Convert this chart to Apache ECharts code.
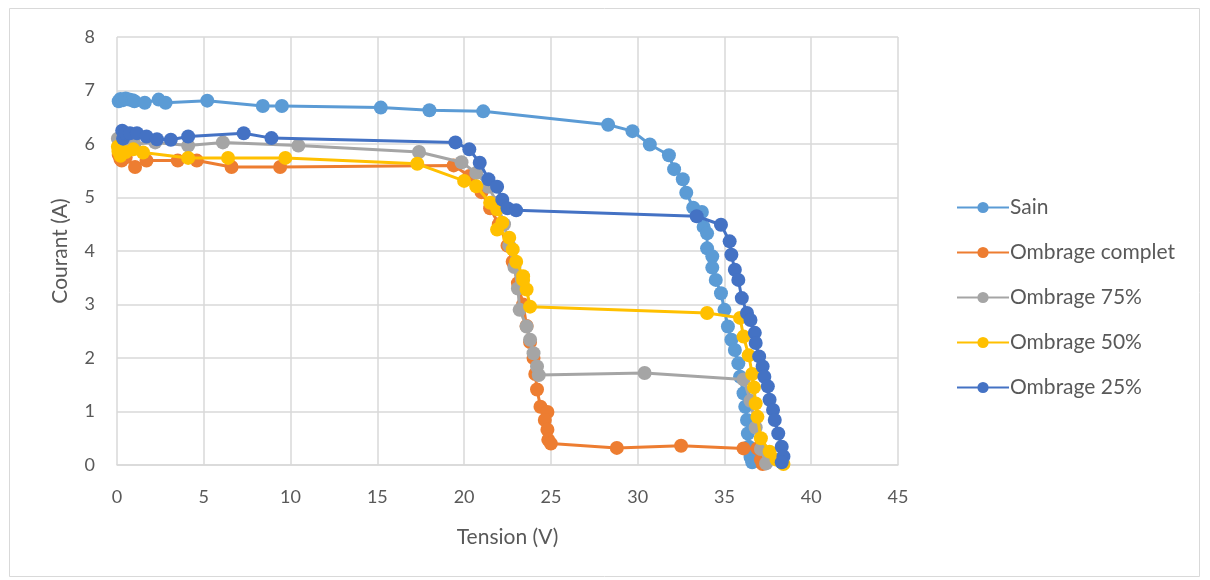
<!DOCTYPE html>
<html>
<head>
<meta charset="utf-8">
<script src="https://cdn.jsdelivr.net/npm/echarts@6/dist/echarts.min.js"></script>
<style>html,body{margin:0;padding:0;background:#fff;}#c{width:1210px;height:580px;}</style>
</head>
<body>
<div id="c"></div>
<script>
const seriesNames = ['Sain', 'Ombrage complet', 'Ombrage 75%', 'Ombrage 50%', 'Ombrage 25%'];
const seriesColors = ['#5B9BD5', '#ED7D31', '#A5A5A5', '#FFC000', '#4472C4'];
const xTicks = [0, 5, 10, 15, 20, 25, 30, 35, 40, 45];
const yTicks = [0, 1, 2, 3, 4, 5, 6, 7, 8];

const sainV = [0.1,0.2,0.35,0.5,0.7,0.9,1.0,1.6,2.4,2.8,5.2,8.4,9.5,15.2,18.0,21.1,28.3,29.7,30.7,31.8,32.1,32.6,32.8,33.2,33.7,33.8,34.0,34.0,34.3,34.3,34.5,34.8,35.0,35.2,35.4,35.6,35.8,35.9,36.1,36.2,36.3,36.35,36.4,36.5,36.6,36.8];
const sainI = [6.8,6.84,6.82,6.85,6.83,6.82,6.8,6.77,6.83,6.77,6.81,6.71,6.71,6.68,6.63,6.61,6.36,6.24,5.99,5.79,5.53,5.34,5.09,4.81,4.73,4.45,4.33,4.05,3.9,3.69,3.46,3.21,2.9,2.59,2.34,2.15,1.9,1.65,1.34,1.09,0.84,0.59,0.34,0.15,0.05,0.1];

const completV = [0.1,0.2,0.27,0.5,1.04,1.7,3.5,4.6,6.6,9.4,19.4,20.3,21.0,21.5,22.0,22.5,22.8,23.1,23.4,23.6,23.8,24.0,24.1,24.2,24.4,24.8,24.65,24.8,24.85,25.0,28.8,32.5,36.1,36.9,37.1,37.2];
const completI = [5.8,5.72,5.69,5.75,5.57,5.69,5.69,5.69,5.57,5.57,5.6,5.4,5.1,4.8,4.5,4.1,3.8,3.4,3.0,2.6,2.3,2.0,1.7,1.41,1.09,0.99,0.84,0.66,0.47,0.4,0.32,0.36,0.31,0.31,0.1,0.02];

const omb75V = [0.05,0.17,0.4,1.0,2.2,4.1,6.1,10.45,17.4,19.85,20.7,21.4,21.9,22.3,22.6,22.9,23.1,23.2,23.6,23.8,24.0,24.2,24.3,30.4,36.1,36.5,36.8,37.1,37.4];
const omb75I = [6.1,6.03,5.95,6.0,6.03,5.97,6.03,5.97,5.85,5.66,5.46,5.2,4.9,4.5,4.1,3.7,3.3,2.9,2.59,2.34,2.09,1.84,1.68,1.72,1.6,1.2,0.7,0.3,0.03];

const omb50V = [0.05,0.08,0.2,0.5,0.94,1.5,4.1,6.4,9.7,17.3,20.0,20.7,21.5,21.9,22.2,21.9,22.6,22.8,23.0,23.4,23.4,23.6,23.8,34.0,35.9,36.1,36.4,36.6,36.7,36.8,36.9,37.1,37.6,38.0,38.4];
const omb50I = [5.95,5.87,5.78,5.85,5.9,5.84,5.74,5.74,5.74,5.63,5.31,5.21,4.9,4.78,4.53,4.4,4.25,4.03,3.8,3.53,3.46,3.28,2.96,2.84,2.75,2.4,2.05,1.7,1.45,1.15,0.9,0.5,0.25,0.1,0.02];

const omb25V = [0.3,0.35,0.5,0.75,1.15,1.7,2.3,3.1,4.1,7.3,8.9,19.5,20.3,20.9,21.4,21.9,22.2,22.5,23.0,33.4,34.8,35.3,35.4,35.6,35.8,36.0,36.3,36.5,36.75,36.8,37.0,37.2,37.3,37.5,37.6,37.8,37.9,38.1,38.3,38.4,38.3];
const omb25I = [6.25,6.1,6.2,6.2,6.2,6.14,6.09,6.08,6.14,6.2,6.11,6.03,5.9,5.65,5.34,5.2,4.96,4.8,4.76,4.65,4.49,4.18,3.93,3.65,3.46,3.12,2.84,2.71,2.47,2.28,2.03,1.84,1.65,1.47,1.22,1.03,0.84,0.59,0.34,0.16,0.05];

const allV = [sainV, completV, omb75V, omb50V, omb25V];
const allI = [sainI, completI, omb75I, omb50I, omb25I];

const FONT = 'Lato, "Open Sans", sans-serif';
const TXT = '#595959';

const chart = echarts.init(document.getElementById('c'), null, {renderer: 'canvas'});
chart.setOption({
  animation: false,
  backgroundColor: '#ffffff',
  textStyle: {fontFamily: FONT},
  graphic: [{
    type: 'rect', silent: true,
    shape: {x: 9.5, y: 8.5, width: 1190, height: 568},
    style: {fill: 'none', stroke: '#D9D9D9', lineWidth: 1}
  }],
  grid: {left: 117, right: 312, top: 37, bottom: 115, containLabel: false},
  legend: {
    orient: 'vertical', left: 951, top: 192, itemGap: 24,
    itemWidth: 52, itemHeight: 14,
    data: seriesNames,
    textStyle: {fontFamily: FONT, fontSize: 21, color: TXT, padding: [0, 0, 0, -4]},
    selectedMode: false
  },
  xAxis: {
    type: 'value', min: xTicks[0], max: xTicks[xTicks.length - 1], interval: 5,
    name: 'Tension (V)', nameLocation: 'middle', nameGap: 62,
    nameTextStyle: {fontFamily: FONT, fontSize: 21, color: TXT},
    axisLine: {show: true, lineStyle: {color: '#D9D9D9', width: 1.5}},
    axisTick: {show: false},
    axisLabel: {fontFamily: FONT, fontSize: 18, color: TXT, margin: 23},
    splitLine: {show: true, lineStyle: {color: '#D9D9D9', width: 1.5}}
  },
  yAxis: {
    type: 'value', min: yTicks[0], max: yTicks[yTicks.length - 1], interval: 1,
    name: 'Courant (A)', nameLocation: 'middle', nameGap: 46, nameRotate: 90,
    nameTextStyle: {fontFamily: FONT, fontSize: 21, color: TXT},
    axisLine: {show: false},
    axisTick: {show: false},
    axisLabel: {fontFamily: FONT, fontSize: 18, color: TXT, margin: 22},
    splitLine: {show: true, lineStyle: {color: '#D9D9D9', width: 1.5}}
  },
  series: seriesNames.map((name, k) => ({
    name: name,
    type: 'line',
    data: allV[k].map((v, i) => [v, allI[k][i]]),
    symbol: 'circle',
    symbolSize: 14,
    showSymbol: true,
    smooth: false,
    color: seriesColors[k],
    lineStyle: {width: 3, color: seriesColors[k]},
    itemStyle: {color: seriesColors[k]},
    emphasis: {disabled: true},
    z: 2 + k
  }))
});
</script>
</body>
</html>
